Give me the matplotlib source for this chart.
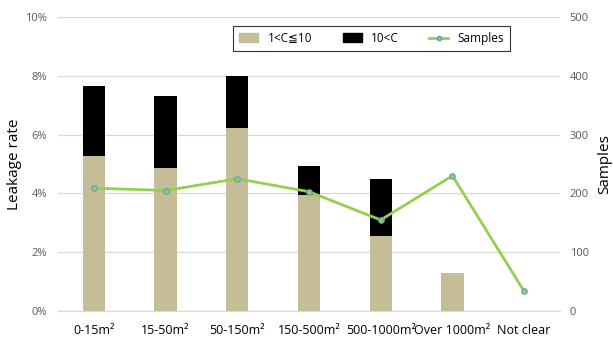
import matplotlib.pyplot as plt
import numpy as np
from matplotlib.lines import Line2D
from matplotlib.patches import Patch

plt.rcParams['font.family'] = ['Open Sans', 'DejaVu Sans']

# leakage rate (%) by floor area, split by concentration class
categories = ['0-15m²', '15-50m²', '50-150m²', '150-500m²', '500-1000m²', 'Over 1000m²', 'Not clear']
rate_low = [5.26, 4.87, 6.21, 3.95, 2.57, 1.30, 0.0]      # 1<C≦10
rate_high = [2.38, 2.44, 1.78, 0.98, 1.91, 0.0, 0.0]      # 10<C
samples = [209, 205, 225, 203, 155, 230, 34]

tan = '#C4BD97'
green = '#92D050'
grey_txt = '#595959'

fig = plt.figure(figsize=(6.13, 3.40), dpi=100)
ax = fig.add_axes([58 / 613, 28.7 / 340, 502 / 613, 294.6 / 340])
ax2 = ax.twinx()

x = np.arange(len(categories))
w = 0.31
ax.bar(x, rate_low, w, color=tan, zorder=2)
ax.bar(x, rate_high, w, bottom=rate_low, color='black', zorder=2)

ax2.plot(x, samples, color=green, lw=2, marker='o', ms=4,
         mfc=green, mec='#5B9BD5', mew=0.8, zorder=3)

ax.set_xlim(-0.5, len(categories) - 0.5)
ax.set_ylim(0, 10)
ax2.set_ylim(0, 500)
ax.set_yticks(range(0, 11, 2))
ax.set_yticklabels([f'{v}%' for v in range(0, 11, 2)])
ax2.set_yticks(range(0, 501, 100))
ax.set_xticks(x)
ax.set_xticklabels(categories)

ax.grid(axis='y', color='#D9D9D9', lw=0.9, zorder=0)
ax.set_axisbelow(True)
for a in (ax, ax2):
    for side in ('top', 'left', 'right'):
        a.spines[side].set_visible(False)
    a.spines['bottom'].set_color('#D9D9D9')
    a.tick_params(length=0, labelsize=8, colors=grey_txt)
ax.tick_params(axis='x', labelsize=9, colors='black', pad=9)
ax.tick_params(axis='y', pad=8)
ax2.tick_params(axis='y', pad=7)

ax.set_ylabel('Leakage rate', fontsize=11, labelpad=2)
ax2.set_ylabel('Samples', fontsize=11, labelpad=6)

handles = [Patch(color=tan), Patch(color='black'),
           Line2D([], [], color=green, lw=2, marker='o', ms=3, mfc=green, mec='#5B9BD5')]
leg = ax.legend(handles, ['1<C≦10', '10<C', 'Samples'], ncol=3, fontsize=8.5,
                loc='upper left', bbox_to_anchor=(0.349, 0.969), frameon=True,
                fancybox=False, edgecolor='black', borderpad=0.5,
                columnspacing=2.6, handlelength=1.6, handleheight=0.7,
                borderaxespad=0)
leg.get_frame().set_linewidth(0.8)

fig.savefig('out.png', dpi=100)
